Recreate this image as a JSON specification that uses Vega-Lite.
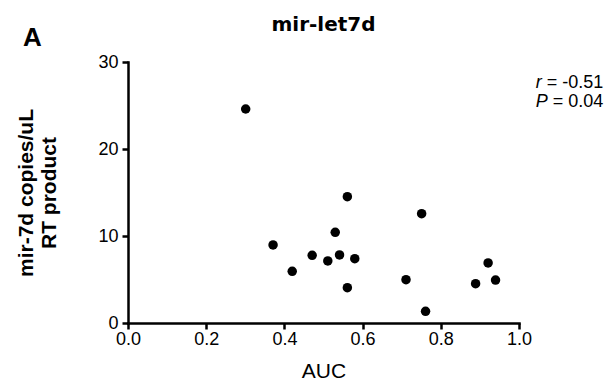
{
  "$schema": "https://vega.github.io/schema/vega-lite/v6.json",
  "width": 391,
  "height": 261,
  "autosize": {"type": "none"},
  "padding": {"left": 128, "top": 62, "right": 89, "bottom": 58},
  "background": "white",
  "title": {"text": "mir-let7d", "font": "DejaVu Sans", "fontWeight": "bold", "fontSize": 20, "color": "black", "offset": -10, "anchor": "middle"},
  "config": {"view": {"stroke": null}},
  "datasets": {
    "points": [
      {"AUC": 0.301, "copies": 24.6},
      {"AUC": 0.371, "copies": 8.97},
      {"AUC": 0.420, "copies": 5.94},
      {"AUC": 0.471, "copies": 7.78},
      {"AUC": 0.511, "copies": 7.13},
      {"AUC": 0.530, "copies": 10.42},
      {"AUC": 0.541, "copies": 7.82},
      {"AUC": 0.561, "copies": 14.52},
      {"AUC": 0.561, "copies": 4.06},
      {"AUC": 0.580, "copies": 7.39},
      {"AUC": 0.711, "copies": 4.98},
      {"AUC": 0.751, "copies": 12.57},
      {"AUC": 0.761, "copies": 1.34},
      {"AUC": 0.889, "copies": 4.52},
      {"AUC": 0.921, "copies": 6.90},
      {"AUC": 0.940, "copies": 4.94}
    ],
    "stats": [
      {"stat": "r", "value": "= -0.51"},
      {"stat": "P", "value": "= 0.04"}
    ]
  },
  "layer": [
    {
      "data": {"name": "points"},
      "mark": {"type": "point", "filled": true, "color": "black", "size": 90, "opacity": 1},
      "encoding": {
        "x": {
          "field": "AUC", "type": "quantitative",
          "scale": {"domain": [0, 1], "nice": false, "zero": false},
          "axis": {
            "title": "AUC", "titleFont": "Liberation Sans", "titleFontSize": 21, "titleFontWeight": "normal", "titleColor": "black", "titlePadding": 12,
            "values": [0, 0.2, 0.4, 0.6, 0.8, 1.0], "format": ".1f",
            "labelFont": "Liberation Sans", "labelFontSize": 18, "labelColor": "black", "labelPadding": 1, "labelFlush": false, "labelOverlap": false,
            "tickSize": 6, "tickWidth": 2.5, "tickColor": "black",
            "domainColor": "black", "domainWidth": 2.5, "domainCap": "square", "grid": false
          }
        },
        "y": {
          "field": "copies", "type": "quantitative",
          "scale": {"domain": [0, 30], "nice": false},
          "axis": {
            "title": ["mir-7d copies/uL", "RT product"], "titleFont": "Liberation Sans", "titleFontSize": 21, "titleFontWeight": "bold", "titleLineHeight": 23, "titleColor": "black", "titlePadding": 38,
            "values": [0, 10, 20, 30],
            "labelFont": "Liberation Sans", "labelFontSize": 18, "labelColor": "black", "labelPadding": 4, "labelFlush": false, "labelOverlap": false,
            "tickSize": 6, "tickWidth": 2.5, "tickColor": "black",
            "domainColor": "black", "domainWidth": 2.5, "domainCap": "square", "grid": false
          }
        }
      }
    },
    {
      "data": {"name": "stats"},
      "transform": [{"filter": "datum.stat === 'r'"}],
      "mark": {"type": "text", "font": "Liberation Sans", "fontSize": 18, "fontStyle": "italic", "align": "left", "baseline": "middle", "color": "black"},
      "encoding": {"x": {"datum": 1.043}, "y": {"datum": 27.6}, "text": {"field": "stat"}}
    },
    {
      "data": {"name": "stats"},
      "transform": [{"filter": "datum.stat === 'r'"}],
      "mark": {"type": "text", "font": "Liberation Sans", "fontSize": 18, "align": "left", "baseline": "middle", "color": "black", "dx": 11},
      "encoding": {"x": {"datum": 1.043}, "y": {"datum": 27.6}, "text": {"field": "value"}}
    },
    {
      "data": {"name": "stats"},
      "transform": [{"filter": "datum.stat === 'P'"}],
      "mark": {"type": "text", "font": "Liberation Sans", "fontSize": 18, "fontStyle": "italic", "align": "left", "baseline": "middle", "color": "black"},
      "encoding": {"x": {"datum": 1.043}, "y": {"datum": 25.4}, "text": {"field": "stat"}}
    },
    {
      "data": {"name": "stats"},
      "transform": [{"filter": "datum.stat === 'P'"}],
      "mark": {"type": "text", "font": "Liberation Sans", "fontSize": 18, "align": "left", "baseline": "middle", "color": "black", "dx": 17},
      "encoding": {"x": {"datum": 1.043}, "y": {"datum": 25.4}, "text": {"field": "value"}}
    },
    {
      "data": {"values": [{}]},
      "mark": {"type": "text", "text": "A", "font": "Liberation Sans", "fontSize": 26, "fontWeight": "bold", "align": "left", "baseline": "middle", "color": "black"},
      "encoding": {"x": {"datum": -0.2685}, "y": {"datum": 32.8}}
    }
  ]
}
